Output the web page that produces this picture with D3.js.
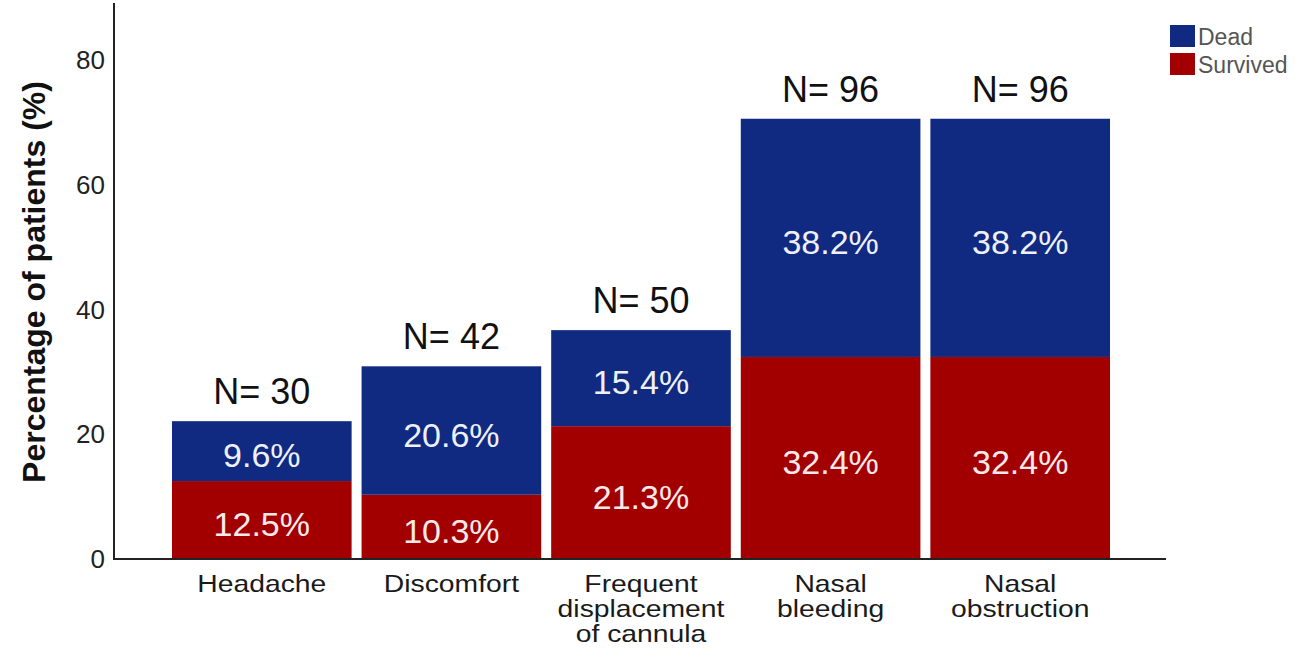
<!DOCTYPE html>
<html>
<head>
<meta charset="utf-8">
<script src="https://cdn.jsdelivr.net/npm/d3@7"></script>
<style>
  body { margin: 0; background: #fff; }
  text { font-family: "Liberation Sans", Arial, sans-serif; }
</style>
</head>
<body>
<svg id="chart" width="1297" height="651"></svg>
<script>
// values
const categories = [
  ["Headache"],
  ["Discomfort"],
  ["Frequent", "displacement", "of cannula"],
  ["Nasal", "bleeding"],
  ["Nasal", "obstruction"]
]
const survived = [12.5, 10.3, 21.3, 32.4, 32.4]
const dead = [9.6, 20.6, 15.4, 38.2, 38.2]
const counts = [30, 42, 50, 96, 96]
const yTicks = [0, 20, 40, 60, 80]

const colDead = "#0f2a80"
const colSurv = "#a20000"

const svg = d3.select("#chart")
const keys = categories.map(c => c.join(" "))

const x = d3.scaleBand().domain(keys).range([167, 1115]).paddingInner(0.0526).paddingOuter(0.0263)
const y = d3.scaleLinear().domain([0, 89]).range([559, 4])

// bars
const g = svg.append("g")
keys.forEach((k, i) => {
  const s = survived[i], d = dead[i]
  g.append("rect")
    .attr("x", x(k)).attr("width", x.bandwidth())
    .attr("y", y(s)).attr("height", y(0) - y(s))
    .attr("fill", colSurv)
  g.append("rect")
    .attr("x", x(k)).attr("width", x.bandwidth())
    .attr("y", y(s + d)).attr("height", y(s) - y(s + d))
    .attr("fill", colDead)

  const cx = x(k) + x.bandwidth() / 2
  g.append("text").attr("x", cx).attr("y", (y(0) + y(s)) / 2 + 4)
    .attr("text-anchor", "middle").attr("dominant-baseline", "central")
    .attr("fill", "#fbeaea").attr("font-size", 34)
    .text(s.toFixed(1) + "%")
  g.append("text").attr("x", cx).attr("y", (y(s) + y(s + d)) / 2 + 4)
    .attr("text-anchor", "middle").attr("dominant-baseline", "central")
    .attr("fill", "#eef0fb").attr("font-size", 34)
    .text(d.toFixed(1) + "%")

  g.append("text").attr("x", cx).attr("y", y(s + d) - 17)
    .attr("text-anchor", "middle")
    .attr("fill", "#111").attr("font-size", 36)
    .text("N= " + counts[i])

  // category label, one line per row (the source text is a bit wide)
  const lab = g.append("text").attr("text-anchor", "middle")
    .attr("transform", `translate(${cx},0) scale(1.18,1)`)
    .attr("fill", "#1a1a1a").attr("font-size", 24)
  categories[i].forEach((line, j) => {
    lab.append("tspan").attr("x", 0).attr("y", 592 + j * 25).text(line)
  })
})

// axes
svg.append("line").attr("x1", 114).attr("x2", 114).attr("y1", 3).attr("y2", 559)
  .attr("stroke", "#222").attr("stroke-width", 2)
svg.append("line").attr("x1", 113).attr("x2", 1166).attr("y1", 559).attr("y2", 559)
  .attr("stroke", "#222").attr("stroke-width", 2)

svg.selectAll(".ytick").data(yTicks).enter().append("text")
  .attr("x", 105).attr("y", d => y(d))
  .attr("text-anchor", "end").attr("dominant-baseline", "central")
  .attr("fill", "#222").attr("font-size", 26)
  .text(d => d)

svg.append("text")
  .attr("transform", "translate(45,282) rotate(-90)")
  .attr("text-anchor", "middle")
  .attr("font-size", 32).attr("font-weight", "bold").attr("fill", "#111")
  .text("Percentage of patients (%)")

// legend
const legend = [["Dead", colDead], ["Survived", colSurv]]
legend.forEach((l, i) => {
  svg.append("rect").attr("x", 1170).attr("y", 25 + i * 28).attr("width", 25).attr("height", 22).attr("fill", l[1])
  svg.append("text").attr("x", 1198).attr("y", 37 + i * 28).attr("dominant-baseline", "central")
    .attr("font-size", 23).attr("fill", "#555").text(l[0])
})
</script>
</body>
</html>
